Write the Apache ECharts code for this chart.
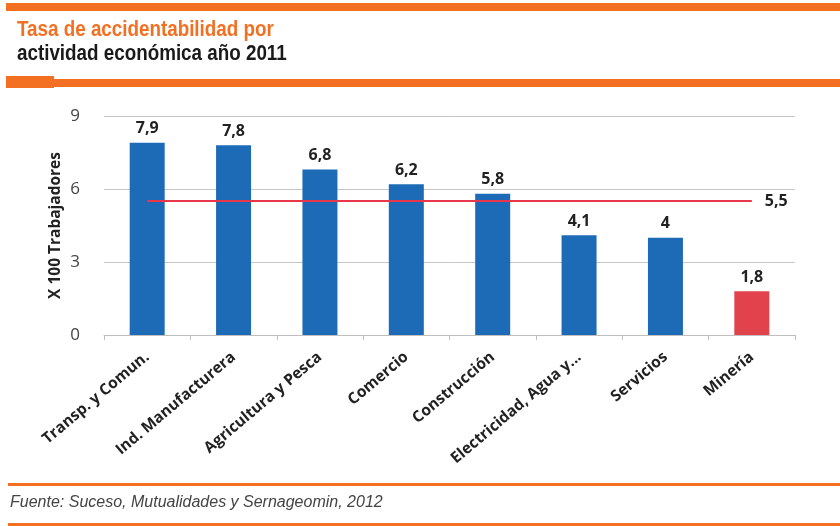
<!DOCTYPE html>
<html>
<head>
<meta charset="utf-8">
<script src="https://cdn.jsdelivr.net/npm/echarts@6/dist/echarts.min.js"></script>
<style>
html,body{margin:0;padding:0;background:#fff;}
#c{width:840px;height:526px;}
</style>
</head>
<body>
<div id="c"></div>
<script>
var categories = ['Transp. y Comun.', 'Ind. Manufacturera', 'Agricultura y Pesca', 'Comercio', 'Construcción', 'Electricidad, Agua y...', 'Servicios', 'Minería'];
var values = [7.9, 7.8, 6.8, 6.2, 5.8, 4.1, 4, 1.8];
var averageValue = 5.5;
var highlightCategory = 'Minería';
var yTicks = [0, 3, 6, 9];
var titleLine1 = 'Tasa de accidentabilidad por';
var titleLine2 = 'actividad económica año 2011';
var sourceText = 'Fuente: Suceso, Mutualidades y Sernageomin, 2012';
var yAxisName = 'X 100 Trabajadores';

var ORANGE = '#f37022';
var BLUE = '#1d6bb6';
var RED = '#e2424c';

function fmt(v){ return String(v).replace('.', ','); }

var chart = echarts.init(document.getElementById('c'), null, {renderer:'canvas'});
chart.setOption({
  backgroundColor: '#ffffff',
  animation: false,
  grid: {left: 104, right: 45, top: 116, bottom: 191, containLabel: false},
  xAxis: {
    type: 'category',
    data: categories,
    axisLine: {show: true, lineStyle: {color: '#bfbfbf', width: 1}},
    axisTick: {show: true, length: 5, lineStyle: {color: '#bfbfbf'}},
    axisLabel: {interval: 0, rotate: 40, margin: 20, color: '#222', fontFamily: 'Open Sans', fontWeight: 'bold', fontSize: 15.5}
  },
  yAxis: {
    type: 'value',
    min: yTicks[0], max: yTicks[yTicks.length-1], interval: yTicks[1]-yTicks[0],
    name: yAxisName,
    nameLocation: 'middle',
    nameGap: 40,
    nameMoveOverlap: false,
    nameRotate: 90,
    nameTextStyle: {color: '#222', fontFamily: 'Open Sans', fontWeight: 'bold', fontSize: 15.5},
    axisLine: {show: false},
    axisTick: {show: false},
    axisLabel: {color: '#444', fontFamily: 'Open Sans', fontSize: 17, margin: 24},
    splitLine: {lineStyle: {color: '#c6c6c6', width: 1}}
  },
  series: [{
    type: 'bar',
    barWidth: 35,
    data: values.map(function(v, i){
      return {value: v, itemStyle: {color: categories[i] === highlightCategory ? RED : BLUE}};
    }),
    label: {show: true, position: 'top', distance: 6, color: '#222', fontFamily: 'Open Sans', fontWeight: 'bold', fontSize: 16,
      formatter: function(p){ return fmt(p.value); }},
    markLine: {
      silent: true,
      symbol: ['none', 'none'],
      lineStyle: {color: '#e8374a', width: 2, type: 'solid'},
      label: {show: true, position: 'end', distance: 13, color: '#222', fontFamily: 'Open Sans', fontWeight: 'bold', fontSize: 16,
        formatter: function(){ return fmt(averageValue); }},
      data: [[{xAxis: categories[0], yAxis: averageValue}, {xAxis: categories[categories.length-1], yAxis: averageValue}]]
    }
  }],
  graphic: [
    {type: 'rect', shape: {x: 6, y: 3, width: 834, height: 8}, style: {fill: ORANGE}},
    {type: 'text', x: 17, y: 19, scaleX: 0.855, style: {text: titleLine1, fill: ORANGE, font: 'bold 22px "Liberation Sans", Arial, sans-serif'}},
    {type: 'text', x: 17, y: 43, scaleX: 0.855, style: {text: titleLine2, fill: '#1a1a1a', font: 'bold 22px "Liberation Sans", Arial, sans-serif'}},
    {type: 'rect', shape: {x: 6, y: 76, width: 48, height: 12}, style: {fill: ORANGE}},
    {type: 'rect', shape: {x: 54, y: 79, width: 786, height: 8}, style: {fill: ORANGE}},
    {type: 'rect', shape: {x: 8, y: 483, width: 832, height: 3}, style: {fill: ORANGE}},
    {type: 'text', left: 10, top: 495, style: {text: sourceText, fill: '#444', font: 'italic 16px "Liberation Sans", Arial, sans-serif'}},
    {type: 'rect', shape: {x: 8, y: 523, width: 832, height: 3}, style: {fill: ORANGE}}
  ]
});
</script>
</body>
</html>
